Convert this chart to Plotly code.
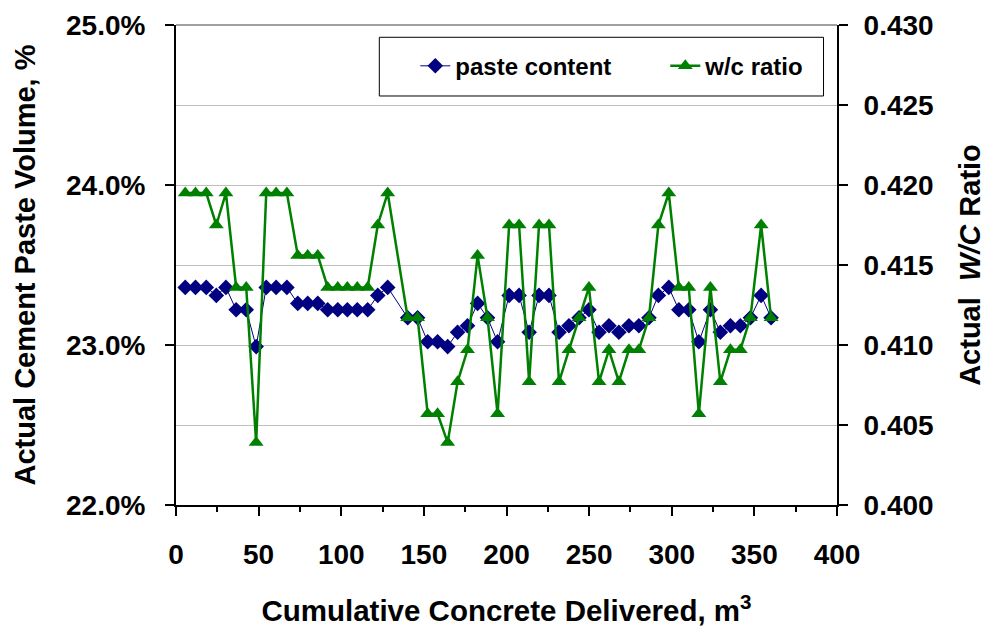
import plotly.graph_objects as go

# Cumulative concrete delivered (m3)
volume = [5.6, 11.8, 18.3, 24.4, 30.2, 36.4, 42.5, 48.5, 54.6, 60.6, 67.1, 73.7, 79.7, 85.8, 91.8, 97.9,
          103.7, 109.7, 116.0, 122.1, 128.1, 140.2, 146.2, 152.3, 158.3, 164.4, 170.4, 176.4, 182.5, 188.5, 194.6,
          201.6, 207.6, 213.7, 219.7, 225.7, 231.8, 237.8, 243.9, 249.9, 256.0, 262.0, 268.0, 274.1, 280.1, 286.2, 291.9,
          298.2, 304.3, 310.3, 316.4, 323.4, 329.4, 335.5, 341.5, 347.6, 354.1, 360.1]

# Actual cement paste volume (%)
paste_content = [23.36, 23.36, 23.36, 23.31, 23.36, 23.22, 23.22, 22.99, 23.36, 23.36, 23.36, 23.26, 23.26, 23.26, 23.22, 23.22,
                 23.22, 23.22, 23.22, 23.31, 23.36, 23.17, 23.17, 23.02, 23.02, 22.99, 23.08, 23.12, 23.26, 23.17, 23.02,
                 23.31, 23.31, 23.08, 23.31, 23.31, 23.08, 23.12, 23.17, 23.22, 23.08, 23.12, 23.08, 23.12, 23.12, 23.17, 23.31,
                 23.36, 23.22, 23.22, 23.02, 23.22, 23.08, 23.12, 23.12, 23.17, 23.31, 23.17]

# Actual w/c ratio
wc_ratio = [0.4195, 0.4195, 0.4195, 0.4175, 0.4195, 0.4136, 0.4136, 0.4039, 0.4195, 0.4195, 0.4195, 0.4156, 0.4156, 0.4156, 0.4136, 0.4136,
            0.4136, 0.4136, 0.4136, 0.4175, 0.4195, 0.4117, 0.4117, 0.4057, 0.4057, 0.4039, 0.4077, 0.4097, 0.4156, 0.4117, 0.4057,
            0.4175, 0.4175, 0.4077, 0.4175, 0.4175, 0.4077, 0.4097, 0.4117, 0.4136, 0.4077, 0.4097, 0.4077, 0.4097, 0.4097, 0.4117, 0.4175,
            0.4195, 0.4136, 0.4136, 0.4057, 0.4136, 0.4077, 0.4097, 0.4097, 0.4117, 0.4175, 0.4117]

FONT = "Liberation Sans, Arial, sans-serif"
NAVY = "#000080"
GREEN = "#008000"

fig = go.Figure()
fig.add_trace(go.Scatter(
    x=volume, y=paste_content, name="paste content", mode="lines+markers",
    line=dict(color=NAVY, width=1),
    marker=dict(symbol="diamond", size=12, color=NAVY),
    yaxis="y",
))
fig.add_trace(go.Scatter(
    x=volume, y=wc_ratio, name="w/c ratio", mode="lines+markers",
    line=dict(color=GREEN, width=2.5),
    marker=dict(symbol="triangle-up", size=13, color=GREEN),
    yaxis="y2",
))

tickfont = dict(family=FONT, size=28, color="black", weight="bold")

fig.update_layout(
    width=994, height=627,
    margin=dict(l=176, r=157, t=25, b=122, autoexpand=False),
    paper_bgcolor="white", plot_bgcolor="white",
    font=dict(family=FONT, color="black"),
    showlegend=True,
    legend=dict(
        orientation="h", x=0.362, y=0.961, xanchor="left", yanchor="top",
        bgcolor="rgba(0,0,0,0)", borderwidth=0,
        font=dict(family=FONT, size=24, color="black", weight="bold"),
        entrywidth=205, entrywidthmode="pixels",
    ),
    xaxis=dict(
        range=[0, 400], dtick=50, tick0=0,
        showgrid=False, zeroline=False,
        showline=True, linecolor="black", linewidth=2,
        ticks="outside", ticklen=9, tickwidth=1.5, tickcolor="black",
        minor=dict(dtick=25, ticks="outside", ticklen=5, tickcolor="black", showgrid=False),
        tickfont=tickfont, ticklabelstandoff=14,
        title=dict(text="Cumulative Concrete Delivered, m<sup>3</sup>",
                   font=dict(family=FONT, size=29.5, color="black", weight="bold"), standoff=34),
    ),
    yaxis=dict(
        range=[22, 25], dtick=1, tick0=22,
        tickformat=".1f", ticksuffix="%",
        showgrid=True, gridcolor="#C0C0C0", gridwidth=1, zeroline=False,
        minor=dict(dtick=0.5, showgrid=True, gridcolor="#C0C0C0", gridwidth=1),
        showline=True, linecolor="black", linewidth=2,
        ticks="outside", ticklen=9, tickwidth=1.5, tickcolor="black",
        tickfont=tickfont, ticklabelstandoff=14,
        title=dict(text="Actual Cement Paste Volume, %",
                   font=dict(family=FONT, size=29, color="black", weight="bold"), standoff=22),
    ),
    yaxis2=dict(
        range=[0.400, 0.430], dtick=0.005, tick0=0.4,
        tickformat=".3f", overlaying="y", side="right",
        showgrid=False, zeroline=False,
        showline=True, linecolor="black", linewidth=2,
        ticks="outside", ticklen=9, tickwidth=1.5, tickcolor="black",
        tickfont=tickfont, ticklabelstandoff=10,
        title=dict(text="Actual&nbsp;&nbsp;<i>W/C</i> Ratio",
                   font=dict(family=FONT, size=29, color="black", weight="bold"), standoff=27),
    ),
    shapes=[
        dict(type="line", xref="paper", yref="paper", x0=0, x1=1, y0=1, y1=1,
             line=dict(color="#808080", width=1.5)),
        dict(type="rect", xref="paper", yref="paper", x0=0.3076, x1=0.9796, y0=0.8521, y1=0.9744,
             line=dict(color="black", width=1), fillcolor="white", layer="above"),
    ],
)

fig.write_html("out.html", config={"displayModeBar": False},
               post_script="document.body.style.margin='0';")
